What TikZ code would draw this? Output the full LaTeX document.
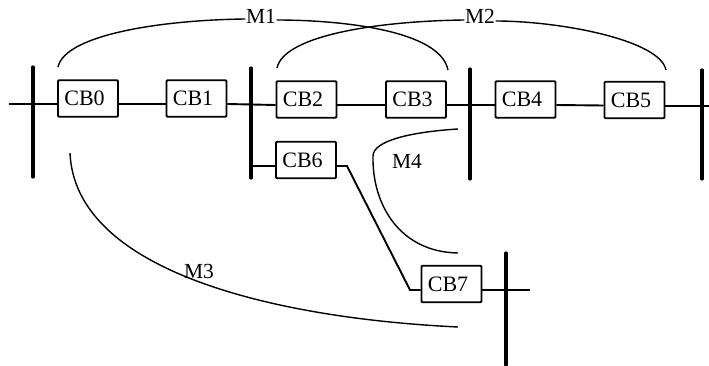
\documentclass[tikz,border=0pt]{standalone}
\usepackage{fontspec}
\setmainfont{Liberation Serif}
\begin{document}
\begin{tikzpicture}[x=1pt,y=-1pt,
  cb/.style={draw,line width=1.9pt,rounded corners=1pt,minimum width=60pt,minimum height=36.5pt,inner sep=0pt,font=\fontsize{22}{24}\selectfont,execute at end node={\hspace{7pt}}},
  bus/.style={line width=3.2pt,line cap=round},
  wire/.style={line width=1.9pt},
  arc/.style={line width=1.4pt},
  lab/.style={inner sep=0.5pt,font=\fontsize{21.5}{24}\selectfont}]
\useasboundingbox[fill=white] (0,0) rectangle (709,366);
% breakers
\node[cb] (cb0) at (88,98.5) {CB0};
\node[cb] (cb1) at (196.5,98.5) {CB1};
\node[cb] (cb2) at (306.5,99.5) {CB2};
\node[cb] (cb3) at (416,99.5) {CB3};
\node[cb] (cb4) at (525.5,99.5) {CB4};
\node[cb] (cb5) at (634.5,100) {CB5};
\node[cb] (cb6) at (306,160) {CB6};
\node[cb] (cb7) at (451.5,284) {CB7};
% bus ends
\coordinate (a1) at (33,67);  \coordinate (a2) at (33,177);
\coordinate (b1) at (251,68); \coordinate (b2) at (251,178);
\coordinate (c1) at (470,69); \coordinate (c2) at (470,179);
\coordinate (d1) at (702,70); \coordinate (d2) at (702,179);
\coordinate (e1) at (506,253); \coordinate (e2) at (506,365);
\draw[bus] (a1) -- (a2);
\draw[bus] (b1) -- (b2);
\draw[bus] (c1) -- (c2);
\draw[bus] (d1) -- (d2);
\draw[bus] (e1) -- (e2);
% wires
\coordinate (w0) at (9,104);
\coordinate (w5) at (709,106);
\coordinate (w7) at (530,290);
\coordinate (b6) at (251,166);
\coordinate (k1) at (347,166);
\coordinate (k2) at (410,290);
\draw[wire] (w0) -- ([yshift=-5.5pt]cb0.west);
\draw[wire] ([yshift=-5.5pt]cb0.east) -- ([yshift=-5.5pt]cb1.west);
\draw[wire] ([yshift=-5.5pt]cb1.east) -- ([yshift=-5.5pt]cb2.west);
\draw[wire] ([yshift=-5.5pt]cb2.east) -- ([yshift=-5.5pt]cb3.west);
\draw[wire] ([yshift=-5.5pt]cb3.east) -- ([yshift=-5.5pt]cb4.west);
\draw[wire] ([yshift=-5.5pt]cb4.east) -- ([yshift=-5.5pt]cb5.west);
\draw[wire] ([yshift=-6pt]cb5.east) -- (w5);
\draw[wire] (b6) -- ([yshift=-6pt]cb6.west);
\draw[wire] ([yshift=-6pt]cb6.east) -- (k1) -- (k2) -- ([yshift=-6pt]cb7.west);
\draw[wire] ([yshift=-6pt]cb7.east) -- (w7);
% labels
\node[lab] (m1) at (261,16) {M1};
\node[lab] (m2) at (480,16) {M2};
\node[lab] (m3) at (199,271) {M3};
\node[lab] (m4) at (407,161) {M4};
% monitoring arcs
\coordinate (m1a) at (58,67);  \coordinate (m1b) at (448,70);
\coordinate (m2a) at (277,68); \coordinate (m2b) at (666,70);
\coordinate (m3a) at (70,153); \coordinate (m3b) at (458,327);
\coordinate (m4a) at (458,129); \coordinate (m4b) at (458,253);
\draw[arc] (m1a) .. controls (65,35) and (160,20) .. ([yshift=-3pt]m1.west);
\draw[arc] ([yshift=-4pt]m1.east) .. controls (340,20) and (440,30) .. (m1b);
\draw[arc] (m2a) .. controls (284,35) and (380,21) .. ([yshift=-4pt]m2.west);
\draw[arc] ([yshift=-5pt]m2.east) .. controls (560,21) and (660,40) .. (m2b);
\draw[arc] (m3a) .. controls (75,270) and (270,318) .. (m3b);
\draw[arc] (m4a) .. controls (410,132) and (373,141) .. (373,156)
  .. controls (372,205) and (400,252) .. (m4b);
\end{tikzpicture}
\end{document}
